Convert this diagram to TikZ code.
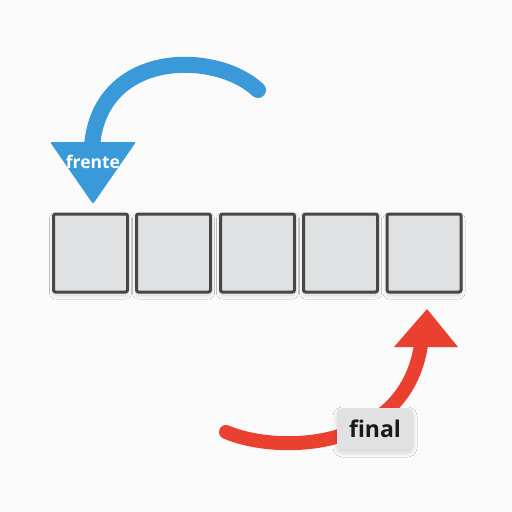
\documentclass[tikz,border=0pt]{standalone}
\usepackage{fontspec}
\setmainfont{Open Sans}
\usetikzlibrary{shadows.blur}
\definecolor{bluearr}{HTML}{3A9AD9}
\definecolor{redarr}{HTML}{EA4030}
\definecolor{cellfill}{HTML}{DFE1E3}
\definecolor{cellline}{HTML}{474747}
\definecolor{bgc}{HTML}{FAFAFA}
\tikzset{
  cell/.style={draw=cellline, line width=3pt, fill=cellfill, rounded corners=2pt,
    minimum width=74pt, minimum height=78pt, inner sep=0pt,
    blur shadow={shadow xshift=0pt, shadow yshift=-3pt, shadow blur radius=4pt, shadow blur steps=10, shadow opacity=15}},
  tag/.style={fill=cellfill, rounded corners=5pt, minimum width=76pt, minimum height=42pt,
    inner sep=0pt, font=\bfseries\fontsize{23}{23}\selectfont, text=black!90,
    blur shadow={shadow xshift=0pt, shadow yshift=-3pt, shadow blur radius=4pt, shadow blur steps=10, shadow opacity=15}},
  bluelabel/.style={font=\bfseries\fontsize{17.5}{17.5}\selectfont, text=white, inner sep=0pt},
  bluestroke/.style={draw=bluearr, line width=16pt, line cap=round},
  redstroke/.style={draw=redarr, line width=14pt, line cap=round},
}
\begin{document}
\begin{tikzpicture}[x=1pt,y=-1pt]
\fill[bgc] (0,0) rectangle (512,512);
\useasboundingbox (0,0) rectangle (512,512);
% cells
\node[cell] (c1) at (90.5,253) {};
\node[cell] (c2) at (173.5,253) {};
\node[cell] (c3) at (257.5,253) {};
\node[cell] (c4) at (340.5,253) {};
\node[cell] (c5) at (424,253) {};
% blue arrow (frente)
\coordinate (bs) at (258,90);
\coordinate (be) at (92,146);
\draw[bluestroke] (bs) .. controls (215,50) and (100,50) .. (be);
\fill[bluearr, rounded corners=2pt] (50,142) -- (136,142) -- (93,204) -- cycle;
\node[bluelabel] (frente) at (93,162) {frente};
% red arrow (final)
\coordinate (rs) at (226,432);
\coordinate (re) at (421,345);
\draw[redstroke] (rs) .. controls (280,455) and (405,450) .. (re);
\fill[redarr] (394,347) -- (458,347) -- (427,309) -- cycle;
\node[tag] (final) at (375,429) {final};
\end{tikzpicture}
\end{document}
